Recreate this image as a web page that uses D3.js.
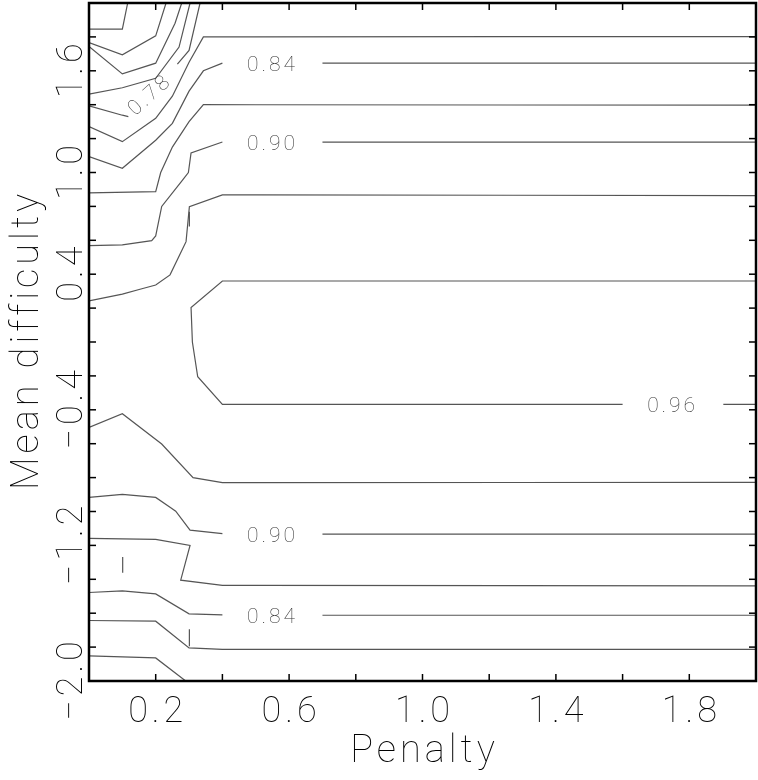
<!DOCTYPE html>
<html>
<head>
<meta charset="utf-8">
<script src="https://cdn.jsdelivr.net/npm/d3@7"></script>
<style>
  body { margin: 0; background: #fff; }
  text { font-family: Roboto, "DejaVu Sans", sans-serif; font-weight: 100; }
</style>
</head>
<body>
<div id="chart"></div>
<script>
const width = 758, height = 780;
const margin = { top: 3, right: 2, bottom: 99, left: 89 };

// axis ticks and labels
const xTicks = [0.2, 0.4, 0.6, 0.8, 1.0, 1.2, 1.4, 1.6, 1.8];
const xLabels = [0.2, 0.6, 1.0, 1.4, 1.8];
const yTicks = [-1.8, -1.6, -1.4, -1.2, -1.0, -0.8, -0.6, -0.4, -0.2, 0, 0.2, 0.4, 0.6, 0.8, 1.0, 1.2, 1.4, 1.6, 1.8];
const yLabels = [1.6, 1.0, 0.4, -0.4, -1.2, -2.0];

// contour lines, [penalty, mean difficulty]
const c066 = [[0, 1.846], [0.1, 1.846], [0.116, 2.0]];
const c069 = [[0, 1.767], [0.1, 1.694], [0.2, 1.806], [0.231, 2.0]];
const c072 = [[0, 1.743], [0.1, 1.582], [0.2, 1.645], [0.258, 1.881], [0.278, 2.0]];
const c075 = [[0, 1.462], [0.1, 1.50], [0.2, 1.556], [0.27, 1.74], [0.303, 2.0]];
const c078a = [[0, 1.393], [0.1, 1.338], [0.118, 1.33]];
const c078b = [[0.265, 1.64], [0.3, 1.72], [0.333, 2.0]];
const c081 = [[0, 1.271], [0.1, 1.182], [0.2, 1.32], [0.25, 1.45], [0.3, 1.65], [0.343, 1.8], [2.0, 1.802]];
const c084a = [[0, 1.094], [0.1, 1.025], [0.2, 1.19], [0.25, 1.29], [0.3, 1.48], [0.343, 1.6], [0.4, 1.645]];
const c084b = [[0.7, 1.645], [2.0, 1.645]];
const c087 = [[0, 0.88], [0.2, 0.887], [0.215, 1.0], [0.25, 1.15], [0.3, 1.3], [0.343, 1.4], [2.0, 1.397]];
const c090a = [[0, 0.569], [0.1, 0.573], [0.188, 0.598], [0.2, 0.626], [0.218, 0.80], [0.281, 0.956], [0.298, 1.0], [0.306, 1.115], [0.4, 1.18]];
const c090b = [[0.7, 1.179], [2.0, 1.179]];
const c093 = [[0, 0.242], [0.1, 0.282], [0.153, 0.311], [0.2, 0.336], [0.243, 0.396], [0.291, 0.592], [0.301, 0.799], [0.4, 0.868], [2.0, 0.864]];
const c096a = [[2.0, 0.36], [0.4, 0.36], [0.306, 0.203], [0.31, 0.0], [0.326, -0.205], [0.4, -0.368], [1.6, -0.368]];
const c096b = [[1.902, -0.368], [2.0, -0.368]];
const c093l = [[0, -0.504], [0.1, -0.423], [0.218, -0.602], [0.312, -0.80], [0.4, -0.83], [2.0, -0.828]];
const c090la = [[0, -0.917], [0.1, -0.899], [0.2, -0.917], [0.26, -0.998], [0.303, -1.11], [0.4, -1.13]];
const c090lb = [[0.7, -1.133], [2.0, -1.133]];
const c087l = [[0, -1.159], [0.2, -1.165], [0.303, -1.20], [0.275, -1.405], [0.4, -1.436], [2.0, -1.439]];
const c084la = [[0, -1.478], [0.1, -1.468], [0.2, -1.486], [0.3, -1.604], [0.4, -1.61]];
const c084lb = [[0.7, -1.612], [2.0, -1.612]];
const c081l = [[0, -1.643], [0.2, -1.647], [0.3, -1.805], [0.4, -1.814], [2.0, -1.814]];
const c078l = [[0, -1.852], [0.2, -1.864], [0.29, -2.0]];
// short stray strokes
const stubs = [
  [[0.301, 0.681], [0.301, 0.769]],
  [[0.101, -1.269], [0.101, -1.362]],
  [[0.301, -1.694], [0.301, -1.795]]
];

const lines = [c066, c069, c072, c075, c078a, c078b, c081, c084a, c084b, c087, c090a, c090b,
  c093, c096a, c096b, c093l, c090la, c090lb, c087l, c084la, c084lb, c081l, c078l].concat(stubs);

// contour labels: text, position, rotation
const labelText = ["0.84", "0.90", "0.96", "0.90", "0.84", "0.78"];
const labelPos = [[0.55, 1.645], [0.55, 1.179], [1.75, -0.368], [0.55, -1.133], [0.55, -1.612], [0.18, 1.465]];
const labelAngle = [0, 0, 0, 0, 0, -42];

const svg = d3.select("#chart")
  .append("svg")
  .attr("width", width)
  .attr("height", height);

const x = d3.scaleLinear()
  .domain([0, 2])
  .range([margin.left, width - margin.right]);

const y = d3.scaleLinear()
  .domain([-2, 2])
  .range([height - margin.bottom, margin.top]);

svg.append("clipPath").attr("id", "plot-clip")
  .append("rect")
  .attr("x", x(0)).attr("y", y(2))
  .attr("width", x(2) - x(0)).attr("height", y(-2) - y(2));

const line = d3.line()
  .x(d => x(d[0]))
  .y(d => y(d[1]));

svg.append("g")
  .attr("clip-path", "url(#plot-clip)")
  .selectAll("path")
  .data(lines)
  .join("path")
  .attr("fill", "none")
  .attr("stroke", "#555")
  .attr("stroke-width", 1.2)
  .attr("d", line);

// text layer in its own group so glyphs get grey antialiasing
const textLayer = svg.append("g").attr("opacity", 0.999);

textLayer.append("g")
  .selectAll("text")
  .data(labelText)
  .join("text")
  .attr("transform", (d, i) => `translate(${x(labelPos[i][0])},${y(labelPos[i][1])}) rotate(${labelAngle[i]})`)
  .attr("dy", "0.36em")
  .attr("text-anchor", "middle")
  .attr("font-size", "21px")
  .attr("letter-spacing", "3px")
  .attr("fill", "#333")
  .text(d => d);

// ticks pointing inward on all four sides
const tickLen = 7;
const ticks = svg.append("g").attr("stroke", "#000").attr("stroke-width", 1.5);
ticks.selectAll(".xb").data(xTicks).join("line")
  .attr("x1", d => x(d)).attr("x2", d => x(d))
  .attr("y1", y(-2)).attr("y2", y(-2) - tickLen);
ticks.selectAll(".xt").data(xTicks).join("line")
  .attr("x1", d => x(d)).attr("x2", d => x(d))
  .attr("y1", y(2)).attr("y2", y(2) + tickLen);
ticks.selectAll(".yl").data(yTicks).join("line")
  .attr("x1", x(0)).attr("x2", x(0) + tickLen)
  .attr("y1", d => y(d)).attr("y2", d => y(d));
ticks.selectAll(".yr").data(yTicks).join("line")
  .attr("x1", x(2)).attr("x2", x(2) - tickLen)
  .attr("y1", d => y(d)).attr("y2", d => y(d));

svg.append("rect")
  .attr("x", x(0)).attr("y", y(2))
  .attr("width", x(2) - x(0)).attr("height", y(-2) - y(2))
  .attr("fill", "none")
  .attr("stroke", "#000")
  .attr("stroke-width", 2.5);

const fmt = d => (d < 0 ? "\u2212" : "") + Math.abs(d).toFixed(1);

textLayer.append("g")
  .selectAll("text")
  .data(xLabels)
  .join("text")
  .attr("x", d => x(d) + 2)
  .attr("y", 722)
  .attr("text-anchor", "middle")
  .attr("font-size", "36px")
  .attr("letter-spacing", "4px")
  .attr("fill", "#000")
  .text(fmt);

textLayer.append("g")
  .selectAll("text")
  .data(yLabels)
  .join("text")
  .attr("transform", d => `translate(82,${y(d) - 2}) rotate(-90)`)
  .attr("text-anchor", "middle")
  .attr("font-size", "36px")
  .attr("letter-spacing", "4px")
  .attr("fill", "#000")
  .text(fmt);

textLayer.append("text")
  .attr("x", x(1) + 2)
  .attr("y", 762)
  .attr("text-anchor", "middle")
  .attr("font-size", "38px")
  .attr("letter-spacing", "4px")
  .attr("fill", "#000")
  .text("Penalty");

textLayer.append("text")
  .attr("transform", `translate(38,${y(0) - 2}) rotate(-90)`)
  .attr("text-anchor", "middle")
  .attr("font-size", "38px")
  .attr("letter-spacing", "4px")
  .attr("fill", "#000")
  .text("Mean difficulty");
</script>
</body>
</html>
